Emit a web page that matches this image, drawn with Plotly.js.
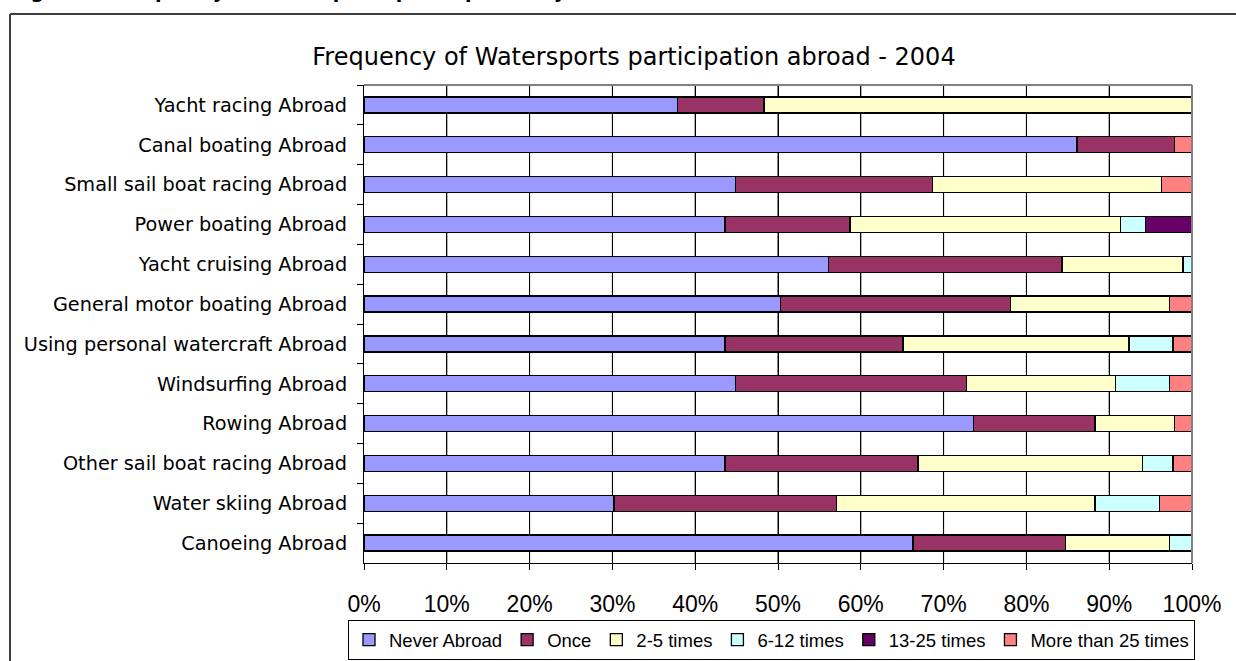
<!DOCTYPE html>
<html>
<head>
<meta charset="utf-8">
<script src="https://cdn.plot.ly/plotly-3.0.1.min.js"></script>
<style>
  html, body { margin: 0; padding: 0; background: #ffffff; }
  #chart { width: 1236px; height: 661px; }
</style>
</head>
<body>
<div id="chart"></div>
<script>
// Categories, top to bottom as shown
const categories = [
  "Yacht racing Abroad",
  "Canal boating Abroad",
  "Small sail boat racing Abroad",
  "Power boating Abroad",
  "Yacht cruising Abroad",
  "General motor boating Abroad",
  "Using personal watercraft Abroad",
  "Windsurfing Abroad",
  "Rowing Abroad",
  "Other sail boat racing Abroad",
  "Water skiing Abroad",
  "Canoeing Abroad"
];

const seriesNames = ["Never Abroad", "Once", "2-5 times", "6-12 times", "13-25 times", "More than 25 times"];

// Percent shares
const neverAbroad = [37.9, 86.1, 44.9, 43.6, 56.1, 50.3, 43.6, 44.9, 73.6, 43.6, 30.2, 66.3];
const once        = [10.4, 11.8, 23.8, 15.1, 28.2, 27.8, 21.5, 27.9, 14.7, 23.3, 26.9, 18.4];
const times2to5   = [51.7,  0.0, 27.6, 32.7, 14.6, 19.2, 27.3, 18.0,  9.6, 27.1, 31.2, 12.6];
const times6to12  = [ 0.0,  0.0,  0.0,  3.0,  1.1,  0.0,  5.3,  6.5,  0.0,  3.7,  7.8,  2.7];
const times13to25 = [ 0.0,  0.0,  0.0,  5.6,  0.0,  0.0,  0.0,  0.0,  0.0,  0.0,  0.0,  0.0];
const moreThan25  = [ 0.0,  2.1,  3.7,  0.0,  0.0,  2.7,  2.3,  2.7,  2.1,  2.3,  3.9,  0.0];

const seriesValues = [neverAbroad, once, times2to5, times6to12, times13to25, moreThan25];
const seriesColors = ["#9999FF", "#993366", "#FFFFCC", "#CCFFFF", "#660066", "#FF8080"];

const tickVals = [0, 10, 20, 30, 40, 50, 60, 70, 80, 90, 100];
const tickText = ["0%", "10%", "20%", "30%", "40%", "50%", "60%", "70%", "80%", "90%", "100%"];

const chartTitle = "Frequency of Watersports participation abroad - 2004";
const figureCaption = "Figure 6: Frequency of watersports participation by location";

const traces = seriesNames.map((name, i) => ({
  type: "bar",
  orientation: "h",
  name: name,
  y: categories,
  x: seriesValues[i],
  marker: { color: seriesColors[i], line: { color: "#000000", width: 1.3 } },
  hoverinfo: "x+y+name"
}));

// plot-area geometry helpers (px -> paper)
const L = 364, R = 1192, T = 85, B = 563;
const px = v => (v - L) / (R - L);
const py = v => (B - v) / (B - T);

// vertical gridlines at the x-axis tick values (drawn through the x scale)
const gridShapes = tickVals.slice(1, -1).map(v => ({
  type: "line", xref: "x", yref: "paper", x0: v, x1: v, y0: 0, y1: 1,
  line: { color: "#000000", width: 1 }, layer: "between"
}));

const layout = {
  width: 1236,
  height: 661,
  margin: { l: L, r: 1236 - R, t: T, b: 661 - B, pad: 0, autoexpand: false },
  paper_bgcolor: "#ffffff",
  plot_bgcolor: "#ffffff",
  barmode: "stack",
  bargap: 0.6,
  showlegend: true,
  font: { family: "DejaVu Sans, Verdana, sans-serif", color: "#000000" },
  title: {
    text: chartTitle,
    font: { family: "DejaVu Sans, Verdana, sans-serif", size: 24, color: "#000000" },
    xref: "container", x: 634 / 1236, xanchor: "center",
    yref: "container", y: 1 - 57 / 661, yanchor: "middle"
  },
  xaxis: {
    range: [0, 100],
    tickvals: tickVals,
    ticktext: tickText,
    ticks: "outside",
    ticklen: 6,
    tickcolor: "#000000",
    tickwidth: 1,
    ticklabelstandoff: 14,
    tickfont: { family: "Liberation Sans, Arial, sans-serif", size: 23, color: "#000000" },
    showgrid: true,
    gridcolor: "#000000",
    gridwidth: 1,
    showline: true,
    linecolor: "#000000",
    linewidth: 1,
    zeroline: false,
    fixedrange: true
  },
  yaxis: {
    type: "category",
    autorange: "reversed",
    ticks: "outside",
    tickson: "boundaries",
    ticklen: 6,
    tickcolor: "#000000",
    ticklabelstandoff: 12,
    tickfont: { family: "DejaVu Sans, Verdana, sans-serif", size: 19.3, color: "#000000" },
    showgrid: false,
    showline: true,
    linecolor: "#000000",
    linewidth: 1,
    zeroline: false,
    fixedrange: true
  },
  legend: {
    orientation: "h",
    xref: "paper", x: px(348), xanchor: "left",
    yref: "paper", y: py(620), yanchor: "top",
    bgcolor: "#ffffff",
    bordercolor: "#000000",
    borderwidth: 1,
    font: { family: "Liberation Sans, Arial, sans-serif", size: 18.5, color: "#000000" },
    traceorder: "normal",
    itemwidth: 30,
    tracegroupgap: 0
  },
  shapes: gridShapes.concat([
    // plot area top and right border (grey)
    { type: "line", xref: "paper", yref: "paper", x0: 0, x1: 1, y0: 1, y1: 1,
      line: { color: "#808080", width: 2 }, layer: "above" },
    { type: "line", xref: "paper", yref: "paper", x0: 1, x1: 1, y0: 0, y1: 1,
      line: { color: "#808080", width: 2 }, layer: "above" },
    // outer chart frame (left and top edges visible)
    { type: "line", xref: "paper", yref: "paper", x0: px(10), x1: px(10), y0: py(14), y1: py(680),
      line: { color: "#404040", width: 2 } },
    { type: "line", xref: "paper", yref: "paper", x0: px(10), x1: px(1260), y0: py(14), y1: py(14),
      line: { color: "#404040", width: 2 } }
  ]),
  annotations: [
    { text: "<b>" + figureCaption + "</b>", xref: "paper", yref: "paper",
      x: px(9), xanchor: "left", y: py(4), yanchor: "bottom", showarrow: false,
      font: { family: "DejaVu Sans, Verdana, sans-serif", size: 19, color: "#000000" } }
  ]
};

Plotly.newPlot("chart", traces, layout, { displayModeBar: false, staticPlot: true });
</script>
</body>
</html>
